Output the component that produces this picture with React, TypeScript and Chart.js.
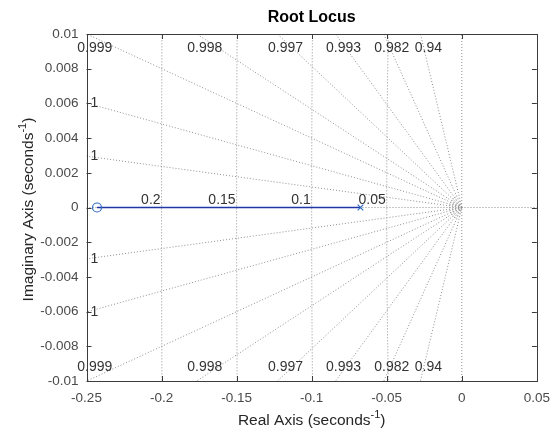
import React, { useEffect, useRef } from "react";
import { Chart, registerables } from "chart.js";

Chart.register(...registerables);

// ---- data ----
const xTicks = [-0.25, -0.2, -0.15, -0.1, -0.05, 0, 0.05];
const yTicks = [-0.01, -0.008, -0.006, -0.004, -0.002, 0, 0.002, 0.004, 0.006, 0.008, 0.01];
const xRange = [-0.25, 0.05];
const yRange = [-0.01, 0.01];

// damping-ratio grid lines and their labels
const dampingRatios = [0.99993, 0.99971, 0.9992, 0.9984, 0.9967, 0.993, 0.982, 0.94];
const dampingLabels = ["1", "1", "0.999", "0.998", "0.997", "0.993", "0.982", "0.94"];
// natural-frequency grid arcs and their labels
const naturalFreqs = [0.05, 0.1, 0.15, 0.2];
const naturalFreqLabels = ["0.05", "0.1", "0.15", "0.2"];
const ringFreqs = [0.002, 0.004, 0.006, 0.008];

// root locus
const zeroRe = [-0.243];
const poleRe = [-0.0675];
const branchRe = [-0.243, -0.0675];
const branchIm = [0, 0];

const FONT = "'Liberation Sans', Arial, Helvetica, sans-serif";
const GRID_COLOR = "#8f8f8f";

function slopeOf(z: number) {
  return Math.sqrt(1 - z * z) / z;
}

export default function App() {
  const ref = useRef<HTMLCanvasElement | null>(null);

  useEffect(() => {
    document.body.style.margin = "0";
    const canvas = ref.current;
    if (!canvas) return;

    const gridDs: any[] = [];
    const far = 0.4;
    dampingRatios.forEach((z) => {
      const s = slopeOf(z);
      [1, -1].forEach((sg) => {
        gridDs.push({
          data: [{ x: 0, y: 0 }, { x: -far, y: sg * far * s }],
        });
      });
    });
    naturalFreqs.forEach((wn) => {
      const pts: { x: number; y: number }[] = [];
      const n = 40;
      for (let i = 0; i <= n; i++) {
        const y = -0.011 + (0.022 * i) / n;
        pts.push({ x: -Math.sqrt(Math.max(wn * wn - y * y, 0)), y });
      }
      gridDs.push({ data: pts });
    });
    // real and imaginary axes
    gridDs.push({ data: [{ x: xRange[0], y: 0 }, { x: xRange[1], y: 0 }] });
    gridDs.push({ data: [{ x: 0, y: yRange[0] }, { x: 0, y: yRange[1] }] });

    const gridDatasets = gridDs.map((d) => ({
      ...d,
      type: "line",
      borderColor: GRID_COLOR,
      borderWidth: 1,
      borderDash: [1, 2],
      pointRadius: 0,
      fill: false,
      tension: 0,
      order: 5,
    }));

    const decor = {
      id: "decor",
      beforeDatasetsDraw(chart: any) {
        const { ctx, chartArea: a, scales } = chart;
        const xs = scales.x;
        const ys = scales.y;
        const ox = xs.getPixelForValue(0);
        const oy = ys.getPixelForValue(0);
        ctx.save();
        ctx.beginPath();
        ctx.rect(a.left, a.top, a.right - a.left, a.bottom - a.top);
        ctx.clip();
        ctx.strokeStyle = GRID_COLOR;
        ctx.lineWidth = 1;
        ctx.setLineDash([1, 1.5]);
        ringFreqs.forEach((wn) => {
          const r = ox - xs.getPixelForValue(-wn);
          ctx.beginPath();
          ctx.arc(ox, oy, r, Math.PI - 1.1, Math.PI + 1.1);
          ctx.stroke();
        });
        ctx.restore();
      },
      afterDraw(chart: any) {
        const { ctx, chartArea: a, scales } = chart;
        const xs = scales.x;
        const ys = scales.y;
        ctx.save();
        // box
        ctx.strokeStyle = "#3c3c3c";
        ctx.lineWidth = 1;
        ctx.setLineDash([]);
        ctx.strokeRect(Math.round(a.left) + 0.5, Math.round(a.top) + 0.5, Math.round(a.right - a.left), Math.round(a.bottom - a.top));
        // inward ticks
        const tl = 5;
        ctx.beginPath();
        xTicks.forEach((v) => {
          const px = Math.round(xs.getPixelForValue(v)) + 0.5;
          ctx.moveTo(px, a.bottom);
          ctx.lineTo(px, a.bottom - tl);
          ctx.moveTo(px, a.top);
          ctx.lineTo(px, a.top + tl);
        });
        yTicks.forEach((v) => {
          const py = Math.round(ys.getPixelForValue(v)) + 0.5;
          ctx.moveTo(a.left, py);
          ctx.lineTo(a.left + tl, py);
          ctx.moveTo(a.right, py);
          ctx.lineTo(a.right - tl, py);
        });
        ctx.stroke();

        // damping labels
        ctx.fillStyle = "#333333";
        ctx.font = `14px ${FONT}`;
        ctx.textBaseline = "middle";
        ctx.textAlign = "center";
        dampingRatios.forEach((z, i) => {
          const s = slopeOf(z);
          const yLeft = -xRange[0] * s;
          const label = dampingLabels[i];
          if (yLeft > yRange[1]) {
            const xTop = -yRange[1] / s;
            const px = xs.getPixelForValue(xTop) + 8;
            ctx.fillText(label, px, a.top + 14);
            ctx.fillText(label, px, a.bottom - 14);
          } else {
            const px = a.left + 8;
            ctx.fillText(label, px, ys.getPixelForValue(yLeft));
            ctx.fillText(label, px, ys.getPixelForValue(-yLeft));
          }
        });
        // natural frequency labels
        ctx.textAlign = "right";
        ctx.textBaseline = "alphabetic";
        naturalFreqs.forEach((wn, i) => {
          const px = xs.getPixelForValue(-wn) - 1;
          ctx.fillText(naturalFreqLabels[i], px, ys.getPixelForValue(0) - 4);
        });

        // title
        const cx = (a.left + a.right) / 2;
        ctx.fillStyle = "#000";
        ctx.textAlign = "center";
        ctx.textBaseline = "alphabetic";
        ctx.font = `bold 16px ${FONT}`;
        ctx.fillText("Root Locus", cx, 22);

        // axis titles with superscript
        const drawTitle = (main: string, sup: string, tail: string, x: number, y: number) => {
          ctx.font = `15.5px ${FONT}`;
          const w1 = ctx.measureText(main).width;
          const w3 = ctx.measureText(tail).width;
          ctx.font = `11px ${FONT}`;
          const w2 = ctx.measureText(sup).width;
          const total = w1 + w2 + w3;
          let sx = x - total / 2;
          ctx.textAlign = "left";
          ctx.font = `15.5px ${FONT}`;
          ctx.fillText(main, sx, y);
          sx += w1;
          ctx.font = `11px ${FONT}`;
          ctx.fillText(sup, sx, y - 7);
          sx += w2;
          ctx.font = `15.5px ${FONT}`;
          ctx.fillText(tail, sx, y);
        };
        ctx.fillStyle = "#262626";
        drawTitle("Real Axis (seconds", "-1", ")", cx, 425);
        ctx.save();
        ctx.translate(33, (a.top + a.bottom) / 2 + 2);
        ctx.rotate(-Math.PI / 2);
        drawTitle("Imaginary Axis (seconds", "-1", ")", 0, 0);
        ctx.restore();

        ctx.restore();
      },
    };

    const fmt = (v: any) => {
      const n = Number(Number(v).toFixed(4));
      return String(n);
    };

    const chart = new Chart(canvas, {
      type: "scatter",
      data: {
        datasets: [
          {
            type: "line",
            data: branchRe.map((x, i) => ({ x, y: branchIm[i] })),
            borderColor: "#1f35a8",
            borderWidth: 1.3,
            pointRadius: 0,
            fill: false,
            order: 1,
          } as any,
          {
            data: zeroRe.map((x) => ({ x, y: 0 })),
            pointStyle: "circle",
            pointRadius: 4.5,
            borderColor: "#2f6cc4",
            backgroundColor: "rgba(0,0,0,0)",
            borderWidth: 1.2,
            order: 0,
          },
          {
            data: poleRe.map((x) => ({ x, y: 0 })),
            pointStyle: "crossRot",
            pointRadius: 4,
            borderColor: "#2f6cc4",
            borderWidth: 1.2,
            order: 0,
          },
          ...gridDatasets,
        ],
      },
      options: {
        responsive: false,
        animation: false,
        events: [],
        layout: { padding: { top: 34, right: 19.5, bottom: 0, left: 0 } },
        plugins: {
          legend: { display: false },
          tooltip: { enabled: false },
          title: { display: false },
        },
        scales: {
          x: {
            type: "linear",
            min: xRange[0],
            max: xRange[1],
            grid: { display: false, drawTicks: false },
            border: { display: false },
            afterBuildTicks: (s: any) => {
              s.ticks = xTicks.map((v) => ({ value: v }));
            },
            afterFit: (s: any) => {
              s.height = 51;
            },
            ticks: {
              callback: fmt,
              color: "#4a4a4a",
              font: { family: FONT, size: 13.5 },
              padding: 9,
              maxRotation: 0,
              autoSkip: false,
            },
          },
          y: {
            type: "linear",
            min: yRange[0],
            max: yRange[1],
            grid: { display: false, drawTicks: false },
            border: { display: false },
            afterBuildTicks: (s: any) => {
              s.ticks = yTicks.map((v) => ({ value: v }));
            },
            afterFit: (s: any) => {
              s.width = 86.5;
            },
            ticks: {
              callback: fmt,
              color: "#4a4a4a",
              font: { family: FONT, size: 13.5 },
              padding: 8,
              autoSkip: false,
            },
          },
        },
      },
      plugins: [decor],
    } as any);

    return () => chart.destroy();
  }, []);

  return (
    <canvas
      ref={ref}
      width={559}
      height={432}
      style={{ display: "block", width: 559, height: 432 }}
    />
  );
}
